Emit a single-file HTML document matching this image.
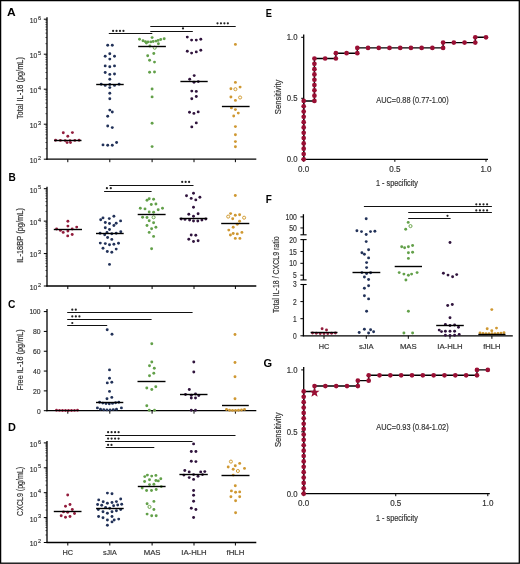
<!DOCTYPE html>
<html><head><meta charset="utf-8"><style>
html,body{margin:0;padding:0;background:#fff;}
body{width:520px;height:564px;overflow:hidden;}
svg{display:block;font-family:"Liberation Sans", sans-serif;will-change:transform;}
</style></head><body>
<svg width="520" height="564" viewBox="0 0 520 564">
<rect x="0" y="0" width="520" height="564" fill="#fff"/>
<text x="6.90" y="16.30" font-size="11.3" font-weight="bold" fill="#000" text-anchor="start" textLength="8.70" lengthAdjust="spacingAndGlyphs">A</text>
<text x="8.60" y="180.60" font-size="11.3" font-weight="bold" fill="#000" text-anchor="start" textLength="7.30" lengthAdjust="spacingAndGlyphs">B</text>
<text x="7.90" y="307.80" font-size="11.3" font-weight="bold" fill="#000" text-anchor="start" textLength="7.40" lengthAdjust="spacingAndGlyphs">C</text>
<text x="8.00" y="430.80" font-size="11.3" font-weight="bold" fill="#000" text-anchor="start" textLength="7.90" lengthAdjust="spacingAndGlyphs">D</text>
<text x="265.70" y="16.60" font-size="11.3" font-weight="bold" fill="#000" text-anchor="start" textLength="6.20" lengthAdjust="spacingAndGlyphs">E</text>
<text x="265.70" y="203.20" font-size="11.3" font-weight="bold" fill="#000" text-anchor="start" textLength="6.10" lengthAdjust="spacingAndGlyphs">F</text>
<text x="263.60" y="366.60" font-size="11.3" font-weight="bold" fill="#000" text-anchor="start" textLength="8.60" lengthAdjust="spacingAndGlyphs">G</text>
<line x1="47.00" y1="17.20" x2="47.00" y2="159.80" stroke="#000" stroke-width="1.3"/>
<line x1="43.80" y1="159.20" x2="47.00" y2="159.20" stroke="#000" stroke-width="1.0"/>
<text x="29.70" y="163.10" font-size="8.0" font-weight="normal" fill="#333333" text-anchor="start" textLength="7.50" lengthAdjust="spacingAndGlyphs" stroke="#333333" stroke-width="0.18">10</text>
<text x="37.90" y="159.80" font-size="6.0" font-weight="normal" fill="#333333" text-anchor="start" textLength="3.10" lengthAdjust="spacingAndGlyphs" stroke="#333333" stroke-width="0.18">2</text>
<line x1="45.40" y1="148.66" x2="47.00" y2="148.66" stroke="#000" stroke-width="0.6"/>
<line x1="45.40" y1="142.50" x2="47.00" y2="142.50" stroke="#000" stroke-width="0.6"/>
<line x1="45.40" y1="138.13" x2="47.00" y2="138.13" stroke="#000" stroke-width="0.6"/>
<line x1="45.40" y1="134.74" x2="47.00" y2="134.74" stroke="#000" stroke-width="0.6"/>
<line x1="45.40" y1="131.96" x2="47.00" y2="131.96" stroke="#000" stroke-width="0.6"/>
<line x1="45.40" y1="129.62" x2="47.00" y2="129.62" stroke="#000" stroke-width="0.6"/>
<line x1="45.40" y1="127.59" x2="47.00" y2="127.59" stroke="#000" stroke-width="0.6"/>
<line x1="45.40" y1="125.80" x2="47.00" y2="125.80" stroke="#000" stroke-width="0.6"/>
<line x1="43.80" y1="124.20" x2="47.00" y2="124.20" stroke="#000" stroke-width="1.0"/>
<text x="29.70" y="128.10" font-size="8.0" font-weight="normal" fill="#333333" text-anchor="start" textLength="7.50" lengthAdjust="spacingAndGlyphs" stroke="#333333" stroke-width="0.18">10</text>
<text x="37.90" y="124.80" font-size="6.0" font-weight="normal" fill="#333333" text-anchor="start" textLength="3.10" lengthAdjust="spacingAndGlyphs" stroke="#333333" stroke-width="0.18">3</text>
<line x1="45.40" y1="113.66" x2="47.00" y2="113.66" stroke="#000" stroke-width="0.6"/>
<line x1="45.40" y1="107.50" x2="47.00" y2="107.50" stroke="#000" stroke-width="0.6"/>
<line x1="45.40" y1="103.13" x2="47.00" y2="103.13" stroke="#000" stroke-width="0.6"/>
<line x1="45.40" y1="99.74" x2="47.00" y2="99.74" stroke="#000" stroke-width="0.6"/>
<line x1="45.40" y1="96.96" x2="47.00" y2="96.96" stroke="#000" stroke-width="0.6"/>
<line x1="45.40" y1="94.62" x2="47.00" y2="94.62" stroke="#000" stroke-width="0.6"/>
<line x1="45.40" y1="92.59" x2="47.00" y2="92.59" stroke="#000" stroke-width="0.6"/>
<line x1="45.40" y1="90.80" x2="47.00" y2="90.80" stroke="#000" stroke-width="0.6"/>
<line x1="43.80" y1="89.20" x2="47.00" y2="89.20" stroke="#000" stroke-width="1.0"/>
<text x="29.70" y="93.10" font-size="8.0" font-weight="normal" fill="#333333" text-anchor="start" textLength="7.50" lengthAdjust="spacingAndGlyphs" stroke="#333333" stroke-width="0.18">10</text>
<text x="37.90" y="89.80" font-size="6.0" font-weight="normal" fill="#333333" text-anchor="start" textLength="3.10" lengthAdjust="spacingAndGlyphs" stroke="#333333" stroke-width="0.18">4</text>
<line x1="45.40" y1="78.66" x2="47.00" y2="78.66" stroke="#000" stroke-width="0.6"/>
<line x1="45.40" y1="72.50" x2="47.00" y2="72.50" stroke="#000" stroke-width="0.6"/>
<line x1="45.40" y1="68.13" x2="47.00" y2="68.13" stroke="#000" stroke-width="0.6"/>
<line x1="45.40" y1="64.74" x2="47.00" y2="64.74" stroke="#000" stroke-width="0.6"/>
<line x1="45.40" y1="61.96" x2="47.00" y2="61.96" stroke="#000" stroke-width="0.6"/>
<line x1="45.40" y1="59.62" x2="47.00" y2="59.62" stroke="#000" stroke-width="0.6"/>
<line x1="45.40" y1="57.59" x2="47.00" y2="57.59" stroke="#000" stroke-width="0.6"/>
<line x1="45.40" y1="55.80" x2="47.00" y2="55.80" stroke="#000" stroke-width="0.6"/>
<line x1="43.80" y1="54.20" x2="47.00" y2="54.20" stroke="#000" stroke-width="1.0"/>
<text x="29.70" y="58.10" font-size="8.0" font-weight="normal" fill="#333333" text-anchor="start" textLength="7.50" lengthAdjust="spacingAndGlyphs" stroke="#333333" stroke-width="0.18">10</text>
<text x="37.90" y="54.80" font-size="6.0" font-weight="normal" fill="#333333" text-anchor="start" textLength="3.10" lengthAdjust="spacingAndGlyphs" stroke="#333333" stroke-width="0.18">5</text>
<line x1="45.40" y1="43.66" x2="47.00" y2="43.66" stroke="#000" stroke-width="0.6"/>
<line x1="45.40" y1="37.50" x2="47.00" y2="37.50" stroke="#000" stroke-width="0.6"/>
<line x1="45.40" y1="33.13" x2="47.00" y2="33.13" stroke="#000" stroke-width="0.6"/>
<line x1="45.40" y1="29.74" x2="47.00" y2="29.74" stroke="#000" stroke-width="0.6"/>
<line x1="45.40" y1="26.96" x2="47.00" y2="26.96" stroke="#000" stroke-width="0.6"/>
<line x1="45.40" y1="24.62" x2="47.00" y2="24.62" stroke="#000" stroke-width="0.6"/>
<line x1="45.40" y1="22.59" x2="47.00" y2="22.59" stroke="#000" stroke-width="0.6"/>
<line x1="45.40" y1="20.80" x2="47.00" y2="20.80" stroke="#000" stroke-width="0.6"/>
<line x1="43.80" y1="19.20" x2="47.00" y2="19.20" stroke="#000" stroke-width="1.0"/>
<text x="29.70" y="23.10" font-size="8.0" font-weight="normal" fill="#333333" text-anchor="start" textLength="7.50" lengthAdjust="spacingAndGlyphs" stroke="#333333" stroke-width="0.18">10</text>
<text x="37.90" y="19.80" font-size="6.0" font-weight="normal" fill="#333333" text-anchor="start" textLength="3.10" lengthAdjust="spacingAndGlyphs" stroke="#333333" stroke-width="0.18">6</text>
<line x1="46.40" y1="159.20" x2="256.30" y2="159.20" stroke="#000" stroke-width="1.3"/>
<line x1="67.80" y1="159.20" x2="67.80" y2="162.20" stroke="#000" stroke-width="1.0"/>
<line x1="109.80" y1="159.20" x2="109.80" y2="162.20" stroke="#000" stroke-width="1.0"/>
<line x1="152.10" y1="159.20" x2="152.10" y2="162.20" stroke="#000" stroke-width="1.0"/>
<line x1="194.00" y1="159.20" x2="194.00" y2="162.20" stroke="#000" stroke-width="1.0"/>
<line x1="235.40" y1="159.20" x2="235.40" y2="162.20" stroke="#000" stroke-width="1.0"/>
<text x="22.90" y="119.10" font-size="8.4" font-weight="normal" fill="#333333" text-anchor="start" textLength="62.00" lengthAdjust="spacingAndGlyphs" transform="rotate(-90 22.90 119.10)" stroke="#333333" stroke-width="0.18">Total IL-18 (pg/mL)</text>
<circle cx="63.30" cy="132.80" r="1.45" fill="#921c3c"/>
<circle cx="72.40" cy="132.60" r="1.45" fill="#921c3c"/>
<circle cx="67.80" cy="136.30" r="1.45" fill="#921c3c"/>
<circle cx="55.60" cy="140.20" r="1.45" fill="#921c3c"/>
<circle cx="60.40" cy="140.40" r="1.45" fill="#921c3c"/>
<circle cx="65.20" cy="140.60" r="1.45" fill="#921c3c"/>
<circle cx="70.00" cy="140.60" r="1.45" fill="#921c3c"/>
<circle cx="74.80" cy="140.40" r="1.45" fill="#921c3c"/>
<circle cx="79.10" cy="140.20" r="1.45" fill="#921c3c"/>
<circle cx="67.10" cy="142.60" r="1.45" fill="#921c3c"/>
<circle cx="70.50" cy="142.60" r="1.45" fill="#921c3c"/>
<circle cx="107.70" cy="45.20" r="1.45" fill="#223259"/>
<circle cx="112.30" cy="45.20" r="1.45" fill="#223259"/>
<circle cx="109.80" cy="53.80" r="1.45" fill="#223259"/>
<circle cx="105.20" cy="56.30" r="1.45" fill="#223259"/>
<circle cx="114.50" cy="56.30" r="1.45" fill="#223259"/>
<circle cx="109.80" cy="59.10" r="1.45" fill="#223259"/>
<circle cx="105.20" cy="65.90" r="1.45" fill="#223259"/>
<circle cx="109.80" cy="66.70" r="1.45" fill="#223259"/>
<circle cx="114.50" cy="65.90" r="1.45" fill="#223259"/>
<circle cx="105.20" cy="72.50" r="1.45" fill="#223259"/>
<circle cx="109.80" cy="74.40" r="1.45" fill="#223259"/>
<circle cx="114.50" cy="74.00" r="1.45" fill="#223259"/>
<circle cx="109.80" cy="79.30" r="1.45" fill="#223259"/>
<circle cx="101.20" cy="84.20" r="1.45" fill="#223259"/>
<circle cx="105.20" cy="85.40" r="1.45" fill="#223259"/>
<circle cx="109.80" cy="84.50" r="1.45" fill="#223259"/>
<circle cx="114.50" cy="85.40" r="1.45" fill="#223259"/>
<circle cx="119.10" cy="84.20" r="1.45" fill="#223259"/>
<circle cx="109.80" cy="87.60" r="1.45" fill="#223259"/>
<circle cx="109.80" cy="93.20" r="1.45" fill="#223259"/>
<circle cx="109.80" cy="98.70" r="1.45" fill="#223259"/>
<circle cx="109.80" cy="110.10" r="1.45" fill="#223259"/>
<circle cx="112.30" cy="112.00" r="1.45" fill="#223259"/>
<circle cx="107.70" cy="116.30" r="1.45" fill="#223259"/>
<circle cx="107.70" cy="126.00" r="1.45" fill="#223259"/>
<circle cx="112.30" cy="127.60" r="1.45" fill="#223259"/>
<circle cx="103.00" cy="144.90" r="1.45" fill="#223259"/>
<circle cx="107.70" cy="145.20" r="1.45" fill="#223259"/>
<circle cx="112.30" cy="145.20" r="1.45" fill="#223259"/>
<circle cx="116.60" cy="142.50" r="1.45" fill="#223259"/>
<circle cx="139.50" cy="39.30" r="1.45" fill="#62a049"/>
<circle cx="152.10" cy="37.60" r="1.45" fill="#62a049"/>
<circle cx="143.00" cy="40.80" r="1.45" fill="#62a049"/>
<circle cx="145.40" cy="41.70" r="1.45" fill="#62a049"/>
<circle cx="148.00" cy="41.90" r="1.45" fill="#62a049"/>
<circle cx="150.80" cy="41.90" r="1.45" fill="#62a049"/>
<circle cx="153.20" cy="41.50" r="1.45" fill="#62a049"/>
<circle cx="156.00" cy="41.10" r="1.45" fill="#62a049"/>
<circle cx="158.10" cy="40.40" r="1.45" fill="#62a049"/>
<circle cx="160.70" cy="39.50" r="1.45" fill="#62a049"/>
<circle cx="164.20" cy="38.70" r="1.45" fill="#62a049"/>
<circle cx="146.40" cy="43.00" r="1.45" fill="#62a049"/>
<circle cx="158.40" cy="43.80" r="1.45" fill="#62a049"/>
<circle cx="149.90" cy="46.00" r="1.45" fill="#62a049"/>
<circle cx="153.80" cy="53.50" r="1.45" fill="#62a049"/>
<circle cx="147.70" cy="55.80" r="1.45" fill="#62a049"/>
<circle cx="149.60" cy="60.20" r="1.45" fill="#62a049"/>
<circle cx="154.50" cy="62.10" r="1.45" fill="#62a049"/>
<circle cx="149.60" cy="72.20" r="1.45" fill="#62a049"/>
<circle cx="154.50" cy="72.00" r="1.45" fill="#62a049"/>
<circle cx="152.10" cy="89.00" r="1.45" fill="#62a049"/>
<circle cx="152.10" cy="96.90" r="1.45" fill="#62a049"/>
<circle cx="152.10" cy="123.20" r="1.45" fill="#62a049"/>
<circle cx="152.10" cy="146.60" r="1.45" fill="#62a049"/>
<circle cx="187.30" cy="37.10" r="1.45" fill="#30143d"/>
<circle cx="191.60" cy="40.10" r="1.45" fill="#30143d"/>
<circle cx="196.30" cy="40.10" r="1.45" fill="#30143d"/>
<circle cx="200.80" cy="39.20" r="1.45" fill="#30143d"/>
<circle cx="187.30" cy="51.30" r="1.45" fill="#30143d"/>
<circle cx="191.60" cy="53.10" r="1.45" fill="#30143d"/>
<circle cx="196.30" cy="51.90" r="1.45" fill="#30143d"/>
<circle cx="200.80" cy="50.30" r="1.45" fill="#30143d"/>
<circle cx="194.20" cy="75.60" r="1.45" fill="#30143d"/>
<circle cx="189.70" cy="79.30" r="1.45" fill="#30143d"/>
<circle cx="194.00" cy="82.20" r="1.45" fill="#30143d"/>
<circle cx="198.30" cy="81.60" r="1.45" fill="#30143d"/>
<circle cx="191.80" cy="91.10" r="1.45" fill="#30143d"/>
<circle cx="196.30" cy="91.40" r="1.45" fill="#30143d"/>
<circle cx="191.80" cy="98.70" r="1.45" fill="#30143d"/>
<circle cx="196.30" cy="96.50" r="1.45" fill="#30143d"/>
<circle cx="189.50" cy="112.20" r="1.45" fill="#30143d"/>
<circle cx="193.90" cy="113.40" r="1.45" fill="#30143d"/>
<circle cx="198.20" cy="111.90" r="1.45" fill="#30143d"/>
<circle cx="196.30" cy="122.90" r="1.45" fill="#30143d"/>
<circle cx="191.80" cy="126.90" r="1.45" fill="#30143d"/>
<circle cx="235.40" cy="44.40" r="1.45" fill="#cf9832"/>
<circle cx="235.40" cy="82.40" r="1.45" fill="#cf9832"/>
<circle cx="230.90" cy="88.80" r="1.45" fill="#cf9832"/>
<circle cx="240.10" cy="87.10" r="1.45" fill="#cf9832"/>
<circle cx="230.90" cy="97.00" r="1.45" fill="#cf9832"/>
<circle cx="235.40" cy="100.40" r="1.45" fill="#cf9832"/>
<circle cx="231.40" cy="107.90" r="1.45" fill="#cf9832"/>
<circle cx="235.40" cy="109.60" r="1.45" fill="#cf9832"/>
<circle cx="238.30" cy="113.10" r="1.45" fill="#cf9832"/>
<circle cx="233.70" cy="116.00" r="1.45" fill="#cf9832"/>
<circle cx="235.40" cy="126.60" r="1.45" fill="#cf9832"/>
<circle cx="235.40" cy="134.70" r="1.45" fill="#cf9832"/>
<circle cx="235.40" cy="141.60" r="1.45" fill="#cf9832"/>
<circle cx="235.40" cy="146.80" r="1.45" fill="#cf9832"/>
<circle cx="154.70" cy="47.70" r="1.55" fill="#fffdf0" stroke="#62a049" stroke-width="0.95"/>
<circle cx="235.40" cy="89.20" r="1.55" fill="#fffdf0" stroke="#cf9832" stroke-width="0.95"/>
<circle cx="240.10" cy="97.50" r="1.55" fill="#fffdf0" stroke="#cf9832" stroke-width="0.95"/>
<line x1="54.10" y1="140.50" x2="81.50" y2="140.50" stroke="#000" stroke-width="1.4"/>
<line x1="96.20" y1="84.50" x2="123.70" y2="84.50" stroke="#000" stroke-width="1.4"/>
<line x1="138.20" y1="46.50" x2="165.90" y2="46.50" stroke="#000" stroke-width="1.4"/>
<line x1="180.40" y1="81.50" x2="207.70" y2="81.50" stroke="#000" stroke-width="1.4"/>
<line x1="221.90" y1="106.50" x2="249.60" y2="106.50" stroke="#000" stroke-width="1.4"/>
<line x1="108.80" y1="33.50" x2="152.30" y2="33.50" stroke="#111" stroke-width="1.2"/>
<circle cx="113.10" cy="30.90" r="1.1" fill="#222"/>
<circle cx="116.55" cy="30.90" r="1.1" fill="#222"/>
<circle cx="120.00" cy="30.90" r="1.1" fill="#222"/>
<circle cx="123.45" cy="30.90" r="1.1" fill="#222"/>
<line x1="150.30" y1="31.50" x2="192.80" y2="31.50" stroke="#111" stroke-width="1.2"/>
<circle cx="183.00" cy="28.40" r="1.1" fill="#222"/>
<line x1="150.30" y1="26.50" x2="235.70" y2="26.50" stroke="#111" stroke-width="1.2"/>
<circle cx="217.50" cy="23.30" r="1.1" fill="#222"/>
<circle cx="220.95" cy="23.30" r="1.1" fill="#222"/>
<circle cx="224.40" cy="23.30" r="1.1" fill="#222"/>
<circle cx="227.85" cy="23.30" r="1.1" fill="#222"/>
<line x1="47.00" y1="186.70" x2="47.00" y2="286.60" stroke="#000" stroke-width="1.3"/>
<line x1="43.80" y1="286.00" x2="47.00" y2="286.00" stroke="#000" stroke-width="1.0"/>
<text x="29.70" y="289.90" font-size="8.0" font-weight="normal" fill="#333333" text-anchor="start" textLength="7.50" lengthAdjust="spacingAndGlyphs" stroke="#333333" stroke-width="0.18">10</text>
<text x="37.90" y="286.60" font-size="6.0" font-weight="normal" fill="#333333" text-anchor="start" textLength="3.10" lengthAdjust="spacingAndGlyphs" stroke="#333333" stroke-width="0.18">2</text>
<line x1="45.40" y1="276.24" x2="47.00" y2="276.24" stroke="#000" stroke-width="0.6"/>
<line x1="45.40" y1="270.53" x2="47.00" y2="270.53" stroke="#000" stroke-width="0.6"/>
<line x1="45.40" y1="266.47" x2="47.00" y2="266.47" stroke="#000" stroke-width="0.6"/>
<line x1="45.40" y1="263.33" x2="47.00" y2="263.33" stroke="#000" stroke-width="0.6"/>
<line x1="45.40" y1="260.76" x2="47.00" y2="260.76" stroke="#000" stroke-width="0.6"/>
<line x1="45.40" y1="258.59" x2="47.00" y2="258.59" stroke="#000" stroke-width="0.6"/>
<line x1="45.40" y1="256.71" x2="47.00" y2="256.71" stroke="#000" stroke-width="0.6"/>
<line x1="45.40" y1="255.05" x2="47.00" y2="255.05" stroke="#000" stroke-width="0.6"/>
<line x1="43.80" y1="253.57" x2="47.00" y2="253.57" stroke="#000" stroke-width="1.0"/>
<text x="29.70" y="257.47" font-size="8.0" font-weight="normal" fill="#333333" text-anchor="start" textLength="7.50" lengthAdjust="spacingAndGlyphs" stroke="#333333" stroke-width="0.18">10</text>
<text x="37.90" y="254.17" font-size="6.0" font-weight="normal" fill="#333333" text-anchor="start" textLength="3.10" lengthAdjust="spacingAndGlyphs" stroke="#333333" stroke-width="0.18">3</text>
<line x1="45.40" y1="243.80" x2="47.00" y2="243.80" stroke="#000" stroke-width="0.6"/>
<line x1="45.40" y1="238.09" x2="47.00" y2="238.09" stroke="#000" stroke-width="0.6"/>
<line x1="45.40" y1="234.04" x2="47.00" y2="234.04" stroke="#000" stroke-width="0.6"/>
<line x1="45.40" y1="230.90" x2="47.00" y2="230.90" stroke="#000" stroke-width="0.6"/>
<line x1="45.40" y1="228.33" x2="47.00" y2="228.33" stroke="#000" stroke-width="0.6"/>
<line x1="45.40" y1="226.16" x2="47.00" y2="226.16" stroke="#000" stroke-width="0.6"/>
<line x1="45.40" y1="224.28" x2="47.00" y2="224.28" stroke="#000" stroke-width="0.6"/>
<line x1="45.40" y1="222.62" x2="47.00" y2="222.62" stroke="#000" stroke-width="0.6"/>
<line x1="43.80" y1="221.13" x2="47.00" y2="221.13" stroke="#000" stroke-width="1.0"/>
<text x="29.70" y="225.03" font-size="8.0" font-weight="normal" fill="#333333" text-anchor="start" textLength="7.50" lengthAdjust="spacingAndGlyphs" stroke="#333333" stroke-width="0.18">10</text>
<text x="37.90" y="221.73" font-size="6.0" font-weight="normal" fill="#333333" text-anchor="start" textLength="3.10" lengthAdjust="spacingAndGlyphs" stroke="#333333" stroke-width="0.18">4</text>
<line x1="45.40" y1="211.37" x2="47.00" y2="211.37" stroke="#000" stroke-width="0.6"/>
<line x1="45.40" y1="205.66" x2="47.00" y2="205.66" stroke="#000" stroke-width="0.6"/>
<line x1="45.40" y1="201.61" x2="47.00" y2="201.61" stroke="#000" stroke-width="0.6"/>
<line x1="45.40" y1="198.46" x2="47.00" y2="198.46" stroke="#000" stroke-width="0.6"/>
<line x1="45.40" y1="195.90" x2="47.00" y2="195.90" stroke="#000" stroke-width="0.6"/>
<line x1="45.40" y1="193.72" x2="47.00" y2="193.72" stroke="#000" stroke-width="0.6"/>
<line x1="45.40" y1="191.84" x2="47.00" y2="191.84" stroke="#000" stroke-width="0.6"/>
<line x1="45.40" y1="190.18" x2="47.00" y2="190.18" stroke="#000" stroke-width="0.6"/>
<line x1="43.80" y1="188.70" x2="47.00" y2="188.70" stroke="#000" stroke-width="1.0"/>
<text x="29.70" y="192.60" font-size="8.0" font-weight="normal" fill="#333333" text-anchor="start" textLength="7.50" lengthAdjust="spacingAndGlyphs" stroke="#333333" stroke-width="0.18">10</text>
<text x="37.90" y="189.30" font-size="6.0" font-weight="normal" fill="#333333" text-anchor="start" textLength="3.10" lengthAdjust="spacingAndGlyphs" stroke="#333333" stroke-width="0.18">5</text>
<line x1="46.40" y1="286.00" x2="256.30" y2="286.00" stroke="#000" stroke-width="1.3"/>
<line x1="67.80" y1="286.00" x2="67.80" y2="289.00" stroke="#000" stroke-width="1.0"/>
<line x1="109.80" y1="286.00" x2="109.80" y2="289.00" stroke="#000" stroke-width="1.0"/>
<line x1="152.10" y1="286.00" x2="152.10" y2="289.00" stroke="#000" stroke-width="1.0"/>
<line x1="194.00" y1="286.00" x2="194.00" y2="289.00" stroke="#000" stroke-width="1.0"/>
<line x1="235.40" y1="286.00" x2="235.40" y2="289.00" stroke="#000" stroke-width="1.0"/>
<text x="23.10" y="262.80" font-size="8.4" font-weight="normal" fill="#333333" text-anchor="start" textLength="54.70" lengthAdjust="spacingAndGlyphs" transform="rotate(-90 23.10 262.80)" stroke="#333333" stroke-width="0.18">IL-18BP (pg/mL)</text>
<circle cx="67.90" cy="221.30" r="1.45" fill="#921c3c"/>
<circle cx="67.90" cy="226.10" r="1.45" fill="#921c3c"/>
<circle cx="76.70" cy="227.10" r="1.45" fill="#921c3c"/>
<circle cx="56.60" cy="229.00" r="1.45" fill="#921c3c"/>
<circle cx="60.40" cy="230.40" r="1.45" fill="#921c3c"/>
<circle cx="63.20" cy="232.40" r="1.45" fill="#921c3c"/>
<circle cx="67.90" cy="231.00" r="1.45" fill="#921c3c"/>
<circle cx="72.20" cy="229.00" r="1.45" fill="#921c3c"/>
<circle cx="67.70" cy="235.90" r="1.45" fill="#921c3c"/>
<circle cx="72.20" cy="234.50" r="1.45" fill="#921c3c"/>
<circle cx="100.70" cy="219.80" r="1.45" fill="#223259"/>
<circle cx="103.00" cy="217.90" r="1.45" fill="#223259"/>
<circle cx="109.30" cy="218.60" r="1.45" fill="#223259"/>
<circle cx="113.90" cy="216.30" r="1.45" fill="#223259"/>
<circle cx="120.60" cy="220.90" r="1.45" fill="#223259"/>
<circle cx="105.30" cy="222.50" r="1.45" fill="#223259"/>
<circle cx="109.50" cy="223.50" r="1.45" fill="#223259"/>
<circle cx="116.20" cy="223.20" r="1.45" fill="#223259"/>
<circle cx="113.90" cy="225.50" r="1.45" fill="#223259"/>
<circle cx="105.30" cy="227.80" r="1.45" fill="#223259"/>
<circle cx="109.50" cy="229.50" r="1.45" fill="#223259"/>
<circle cx="100.10" cy="233.30" r="1.45" fill="#223259"/>
<circle cx="107.00" cy="232.50" r="1.45" fill="#223259"/>
<circle cx="104.70" cy="234.80" r="1.45" fill="#223259"/>
<circle cx="111.80" cy="233.80" r="1.45" fill="#223259"/>
<circle cx="116.20" cy="233.30" r="1.45" fill="#223259"/>
<circle cx="120.80" cy="231.80" r="1.45" fill="#223259"/>
<circle cx="107.60" cy="237.50" r="1.45" fill="#223259"/>
<circle cx="111.80" cy="239.40" r="1.45" fill="#223259"/>
<circle cx="100.30" cy="243.10" r="1.45" fill="#223259"/>
<circle cx="105.30" cy="243.60" r="1.45" fill="#223259"/>
<circle cx="109.50" cy="244.80" r="1.45" fill="#223259"/>
<circle cx="113.90" cy="244.20" r="1.45" fill="#223259"/>
<circle cx="118.50" cy="243.30" r="1.45" fill="#223259"/>
<circle cx="103.00" cy="248.30" r="1.45" fill="#223259"/>
<circle cx="116.20" cy="249.10" r="1.45" fill="#223259"/>
<circle cx="107.30" cy="251.50" r="1.45" fill="#223259"/>
<circle cx="111.80" cy="252.30" r="1.45" fill="#223259"/>
<circle cx="109.50" cy="264.40" r="1.45" fill="#223259"/>
<circle cx="147.00" cy="200.20" r="1.45" fill="#62a049"/>
<circle cx="149.20" cy="198.70" r="1.45" fill="#62a049"/>
<circle cx="153.60" cy="199.30" r="1.45" fill="#62a049"/>
<circle cx="151.30" cy="204.50" r="1.45" fill="#62a049"/>
<circle cx="155.90" cy="204.00" r="1.45" fill="#62a049"/>
<circle cx="140.30" cy="208.20" r="1.45" fill="#62a049"/>
<circle cx="145.00" cy="208.90" r="1.45" fill="#62a049"/>
<circle cx="158.20" cy="209.80" r="1.45" fill="#62a049"/>
<circle cx="162.50" cy="208.20" r="1.45" fill="#62a049"/>
<circle cx="149.20" cy="212.00" r="1.45" fill="#62a049"/>
<circle cx="153.60" cy="212.20" r="1.45" fill="#62a049"/>
<circle cx="142.60" cy="217.30" r="1.45" fill="#62a049"/>
<circle cx="147.00" cy="217.50" r="1.45" fill="#62a049"/>
<circle cx="149.20" cy="220.80" r="1.45" fill="#62a049"/>
<circle cx="153.60" cy="222.80" r="1.45" fill="#62a049"/>
<circle cx="147.00" cy="225.50" r="1.45" fill="#62a049"/>
<circle cx="151.60" cy="228.80" r="1.45" fill="#62a049"/>
<circle cx="155.90" cy="227.20" r="1.45" fill="#62a049"/>
<circle cx="149.20" cy="232.40" r="1.45" fill="#62a049"/>
<circle cx="153.60" cy="236.40" r="1.45" fill="#62a049"/>
<circle cx="151.60" cy="248.80" r="1.45" fill="#62a049"/>
<circle cx="193.50" cy="193.20" r="1.45" fill="#30143d"/>
<circle cx="186.50" cy="195.80" r="1.45" fill="#30143d"/>
<circle cx="191.20" cy="198.40" r="1.45" fill="#30143d"/>
<circle cx="195.80" cy="199.90" r="1.45" fill="#30143d"/>
<circle cx="199.90" cy="197.30" r="1.45" fill="#30143d"/>
<circle cx="193.50" cy="207.30" r="1.45" fill="#30143d"/>
<circle cx="188.80" cy="214.20" r="1.45" fill="#30143d"/>
<circle cx="198.10" cy="213.80" r="1.45" fill="#30143d"/>
<circle cx="193.50" cy="216.20" r="1.45" fill="#30143d"/>
<circle cx="181.20" cy="219.00" r="1.45" fill="#30143d"/>
<circle cx="185.00" cy="219.40" r="1.45" fill="#30143d"/>
<circle cx="189.60" cy="220.00" r="1.45" fill="#30143d"/>
<circle cx="193.50" cy="221.00" r="1.45" fill="#30143d"/>
<circle cx="197.80" cy="221.00" r="1.45" fill="#30143d"/>
<circle cx="201.90" cy="220.00" r="1.45" fill="#30143d"/>
<circle cx="205.80" cy="219.00" r="1.45" fill="#30143d"/>
<circle cx="191.20" cy="235.00" r="1.45" fill="#30143d"/>
<circle cx="195.80" cy="235.30" r="1.45" fill="#30143d"/>
<circle cx="188.80" cy="239.30" r="1.45" fill="#30143d"/>
<circle cx="193.50" cy="241.50" r="1.45" fill="#30143d"/>
<circle cx="198.10" cy="240.80" r="1.45" fill="#30143d"/>
<circle cx="235.30" cy="195.50" r="1.45" fill="#cf9832"/>
<circle cx="230.60" cy="213.60" r="1.45" fill="#cf9832"/>
<circle cx="235.30" cy="215.30" r="1.45" fill="#cf9832"/>
<circle cx="239.60" cy="214.70" r="1.45" fill="#cf9832"/>
<circle cx="232.70" cy="218.80" r="1.45" fill="#cf9832"/>
<circle cx="239.60" cy="221.20" r="1.45" fill="#cf9832"/>
<circle cx="237.30" cy="224.20" r="1.45" fill="#cf9832"/>
<circle cx="233.20" cy="227.30" r="1.45" fill="#cf9832"/>
<circle cx="228.80" cy="230.10" r="1.45" fill="#cf9832"/>
<circle cx="237.30" cy="233.90" r="1.45" fill="#cf9832"/>
<circle cx="241.90" cy="232.40" r="1.45" fill="#cf9832"/>
<circle cx="230.40" cy="235.00" r="1.45" fill="#cf9832"/>
<circle cx="233.20" cy="233.50" r="1.45" fill="#cf9832"/>
<circle cx="235.30" cy="238.40" r="1.45" fill="#cf9832"/>
<circle cx="239.90" cy="238.40" r="1.45" fill="#cf9832"/>
<circle cx="153.60" cy="217.30" r="1.55" fill="#fffdf0" stroke="#62a049" stroke-width="0.95"/>
<circle cx="228.20" cy="216.60" r="1.55" fill="#fffdf0" stroke="#cf9832" stroke-width="0.95"/>
<circle cx="244.10" cy="217.70" r="1.55" fill="#fffdf0" stroke="#cf9832" stroke-width="0.95"/>
<line x1="53.80" y1="229.50" x2="82.00" y2="229.50" stroke="#000" stroke-width="1.4"/>
<line x1="96.00" y1="233.50" x2="123.70" y2="233.50" stroke="#000" stroke-width="1.4"/>
<line x1="137.70" y1="214.50" x2="165.60" y2="214.50" stroke="#000" stroke-width="1.4"/>
<line x1="179.60" y1="218.50" x2="207.30" y2="218.50" stroke="#000" stroke-width="1.4"/>
<line x1="221.20" y1="223.50" x2="249.30" y2="223.50" stroke="#000" stroke-width="1.4"/>
<line x1="109.30" y1="185.50" x2="193.50" y2="185.50" stroke="#111" stroke-width="1.2"/>
<circle cx="182.20" cy="181.90" r="1.1" fill="#222"/>
<circle cx="185.65" cy="181.90" r="1.1" fill="#222"/>
<circle cx="189.10" cy="181.90" r="1.1" fill="#222"/>
<line x1="104.10" y1="191.50" x2="151.60" y2="191.50" stroke="#111" stroke-width="1.2"/>
<circle cx="106.90" cy="188.20" r="1.1" fill="#222"/>
<circle cx="110.80" cy="188.20" r="1.1" fill="#222"/>
<line x1="47.00" y1="309.10" x2="47.00" y2="411.30" stroke="#000" stroke-width="1.3"/>
<line x1="43.80" y1="410.70" x2="47.00" y2="410.70" stroke="#000" stroke-width="1.0"/>
<text x="36.90" y="413.50" font-size="8.0" font-weight="normal" fill="#333333" text-anchor="start" textLength="3.70" lengthAdjust="spacingAndGlyphs" stroke="#333333" stroke-width="0.18">0</text>
<line x1="43.80" y1="390.88" x2="47.00" y2="390.88" stroke="#000" stroke-width="1.0"/>
<text x="33.00" y="393.68" font-size="8.0" font-weight="normal" fill="#333333" text-anchor="start" textLength="7.60" lengthAdjust="spacingAndGlyphs" stroke="#333333" stroke-width="0.18">20</text>
<line x1="43.80" y1="371.06" x2="47.00" y2="371.06" stroke="#000" stroke-width="1.0"/>
<text x="33.00" y="373.86" font-size="8.0" font-weight="normal" fill="#333333" text-anchor="start" textLength="7.60" lengthAdjust="spacingAndGlyphs" stroke="#333333" stroke-width="0.18">40</text>
<line x1="43.80" y1="351.24" x2="47.00" y2="351.24" stroke="#000" stroke-width="1.0"/>
<text x="33.00" y="354.04" font-size="8.0" font-weight="normal" fill="#333333" text-anchor="start" textLength="7.60" lengthAdjust="spacingAndGlyphs" stroke="#333333" stroke-width="0.18">60</text>
<line x1="43.80" y1="331.42" x2="47.00" y2="331.42" stroke="#000" stroke-width="1.0"/>
<text x="33.00" y="334.22" font-size="8.0" font-weight="normal" fill="#333333" text-anchor="start" textLength="7.60" lengthAdjust="spacingAndGlyphs" stroke="#333333" stroke-width="0.18">80</text>
<line x1="43.80" y1="311.60" x2="47.00" y2="311.60" stroke="#000" stroke-width="1.0"/>
<text x="29.40" y="314.40" font-size="8.0" font-weight="normal" fill="#333333" text-anchor="start" textLength="11.20" lengthAdjust="spacingAndGlyphs" stroke="#333333" stroke-width="0.18">100</text>
<line x1="46.40" y1="410.70" x2="256.30" y2="410.70" stroke="#000" stroke-width="1.3"/>
<line x1="67.80" y1="410.70" x2="67.80" y2="413.70" stroke="#000" stroke-width="1.0"/>
<line x1="109.80" y1="410.70" x2="109.80" y2="413.70" stroke="#000" stroke-width="1.0"/>
<line x1="152.10" y1="410.70" x2="152.10" y2="413.70" stroke="#000" stroke-width="1.0"/>
<line x1="194.00" y1="410.70" x2="194.00" y2="413.70" stroke="#000" stroke-width="1.0"/>
<line x1="235.40" y1="410.70" x2="235.40" y2="413.70" stroke="#000" stroke-width="1.0"/>
<text x="22.90" y="390.30" font-size="8.4" font-weight="normal" fill="#333333" text-anchor="start" textLength="61.10" lengthAdjust="spacingAndGlyphs" transform="rotate(-90 22.90 390.30)" stroke="#333333" stroke-width="0.18">Free IL-18 (pg/mL)</text>
<circle cx="56.50" cy="410.20" r="1.45" fill="#921c3c"/>
<circle cx="59.50" cy="410.40" r="1.45" fill="#921c3c"/>
<circle cx="62.50" cy="410.50" r="1.45" fill="#921c3c"/>
<circle cx="65.50" cy="410.50" r="1.45" fill="#921c3c"/>
<circle cx="68.50" cy="410.50" r="1.45" fill="#921c3c"/>
<circle cx="71.50" cy="410.50" r="1.45" fill="#921c3c"/>
<circle cx="74.50" cy="410.40" r="1.45" fill="#921c3c"/>
<circle cx="77.50" cy="410.20" r="1.45" fill="#921c3c"/>
<circle cx="107.20" cy="329.70" r="1.45" fill="#223259"/>
<circle cx="112.00" cy="334.30" r="1.45" fill="#223259"/>
<circle cx="109.50" cy="369.90" r="1.45" fill="#223259"/>
<circle cx="109.50" cy="378.30" r="1.45" fill="#223259"/>
<circle cx="107.30" cy="382.90" r="1.45" fill="#223259"/>
<circle cx="111.80" cy="382.30" r="1.45" fill="#223259"/>
<circle cx="109.50" cy="391.40" r="1.45" fill="#223259"/>
<circle cx="107.00" cy="398.80" r="1.45" fill="#223259"/>
<circle cx="111.80" cy="397.40" r="1.45" fill="#223259"/>
<circle cx="99.60" cy="402.30" r="1.45" fill="#223259"/>
<circle cx="102.80" cy="403.10" r="1.45" fill="#223259"/>
<circle cx="106.00" cy="403.60" r="1.45" fill="#223259"/>
<circle cx="109.30" cy="403.80" r="1.45" fill="#223259"/>
<circle cx="112.50" cy="403.40" r="1.45" fill="#223259"/>
<circle cx="115.60" cy="402.80" r="1.45" fill="#223259"/>
<circle cx="118.80" cy="402.30" r="1.45" fill="#223259"/>
<circle cx="97.40" cy="407.90" r="1.45" fill="#223259"/>
<circle cx="100.50" cy="409.20" r="1.45" fill="#223259"/>
<circle cx="103.70" cy="409.70" r="1.45" fill="#223259"/>
<circle cx="106.90" cy="409.90" r="1.45" fill="#223259"/>
<circle cx="110.10" cy="409.90" r="1.45" fill="#223259"/>
<circle cx="113.30" cy="409.60" r="1.45" fill="#223259"/>
<circle cx="116.50" cy="409.20" r="1.45" fill="#223259"/>
<circle cx="121.40" cy="407.90" r="1.45" fill="#223259"/>
<circle cx="151.80" cy="343.80" r="1.45" fill="#62a049"/>
<circle cx="151.80" cy="362.00" r="1.45" fill="#62a049"/>
<circle cx="149.50" cy="365.80" r="1.45" fill="#62a049"/>
<circle cx="154.30" cy="368.30" r="1.45" fill="#62a049"/>
<circle cx="153.80" cy="373.30" r="1.45" fill="#62a049"/>
<circle cx="149.50" cy="375.80" r="1.45" fill="#62a049"/>
<circle cx="146.80" cy="388.00" r="1.45" fill="#62a049"/>
<circle cx="151.80" cy="389.50" r="1.45" fill="#62a049"/>
<circle cx="155.80" cy="386.80" r="1.45" fill="#62a049"/>
<circle cx="146.80" cy="405.80" r="1.45" fill="#62a049"/>
<circle cx="149.30" cy="410.30" r="1.45" fill="#62a049"/>
<circle cx="154.50" cy="410.30" r="1.45" fill="#62a049"/>
<circle cx="193.80" cy="362.00" r="1.45" fill="#30143d"/>
<circle cx="193.80" cy="372.00" r="1.45" fill="#30143d"/>
<circle cx="189.30" cy="389.50" r="1.45" fill="#30143d"/>
<circle cx="185.50" cy="394.50" r="1.45" fill="#30143d"/>
<circle cx="191.30" cy="395.30" r="1.45" fill="#30143d"/>
<circle cx="195.50" cy="394.00" r="1.45" fill="#30143d"/>
<circle cx="198.80" cy="395.50" r="1.45" fill="#30143d"/>
<circle cx="191.30" cy="398.00" r="1.45" fill="#30143d"/>
<circle cx="195.50" cy="398.00" r="1.45" fill="#30143d"/>
<circle cx="191.30" cy="410.30" r="1.45" fill="#30143d"/>
<circle cx="195.50" cy="410.30" r="1.45" fill="#30143d"/>
<circle cx="235.00" cy="334.50" r="1.45" fill="#cf9832"/>
<circle cx="235.00" cy="362.50" r="1.45" fill="#cf9832"/>
<circle cx="235.00" cy="376.80" r="1.45" fill="#cf9832"/>
<circle cx="235.00" cy="398.80" r="1.45" fill="#cf9832"/>
<circle cx="226.50" cy="409.50" r="1.45" fill="#cf9832"/>
<circle cx="229.50" cy="410.30" r="1.45" fill="#cf9832"/>
<circle cx="232.50" cy="410.40" r="1.45" fill="#cf9832"/>
<circle cx="235.50" cy="410.40" r="1.45" fill="#cf9832"/>
<circle cx="238.50" cy="410.30" r="1.45" fill="#cf9832"/>
<circle cx="241.50" cy="410.00" r="1.45" fill="#cf9832"/>
<circle cx="244.50" cy="409.40" r="1.45" fill="#cf9832"/>
<line x1="96.00" y1="402.50" x2="123.30" y2="402.50" stroke="#000" stroke-width="1.4"/>
<line x1="137.50" y1="381.50" x2="165.50" y2="381.50" stroke="#000" stroke-width="1.4"/>
<line x1="180.00" y1="394.50" x2="207.50" y2="394.50" stroke="#000" stroke-width="1.4"/>
<line x1="222.00" y1="405.50" x2="248.80" y2="405.50" stroke="#000" stroke-width="1.4"/>
<line x1="54.00" y1="410.50" x2="80.50" y2="410.50" stroke="#000" stroke-width="1.0"/>
<line x1="67.20" y1="312.50" x2="192.60" y2="312.50" stroke="#111" stroke-width="1.2"/>
<circle cx="72.30" cy="309.70" r="1.1" fill="#222"/>
<circle cx="75.80" cy="309.70" r="1.1" fill="#222"/>
<line x1="67.20" y1="319.50" x2="151.60" y2="319.50" stroke="#111" stroke-width="1.2"/>
<circle cx="72.30" cy="316.40" r="1.1" fill="#222"/>
<circle cx="75.85" cy="316.40" r="1.1" fill="#222"/>
<circle cx="79.40" cy="316.40" r="1.1" fill="#222"/>
<line x1="67.20" y1="325.50" x2="107.20" y2="325.50" stroke="#111" stroke-width="1.2"/>
<circle cx="72.30" cy="323.00" r="1.1" fill="#222"/>
<line x1="47.00" y1="440.90" x2="47.00" y2="543.10" stroke="#000" stroke-width="1.3"/>
<line x1="43.80" y1="542.50" x2="47.00" y2="542.50" stroke="#000" stroke-width="1.0"/>
<text x="29.70" y="546.40" font-size="8.0" font-weight="normal" fill="#333333" text-anchor="start" textLength="7.50" lengthAdjust="spacingAndGlyphs" stroke="#333333" stroke-width="0.18">10</text>
<text x="37.90" y="543.10" font-size="6.0" font-weight="normal" fill="#333333" text-anchor="start" textLength="3.10" lengthAdjust="spacingAndGlyphs" stroke="#333333" stroke-width="0.18">2</text>
<line x1="45.40" y1="535.00" x2="47.00" y2="535.00" stroke="#000" stroke-width="0.6"/>
<line x1="45.40" y1="530.62" x2="47.00" y2="530.62" stroke="#000" stroke-width="0.6"/>
<line x1="45.40" y1="527.51" x2="47.00" y2="527.51" stroke="#000" stroke-width="0.6"/>
<line x1="45.40" y1="525.10" x2="47.00" y2="525.10" stroke="#000" stroke-width="0.6"/>
<line x1="45.40" y1="523.12" x2="47.00" y2="523.12" stroke="#000" stroke-width="0.6"/>
<line x1="45.40" y1="521.46" x2="47.00" y2="521.46" stroke="#000" stroke-width="0.6"/>
<line x1="45.40" y1="520.01" x2="47.00" y2="520.01" stroke="#000" stroke-width="0.6"/>
<line x1="45.40" y1="518.74" x2="47.00" y2="518.74" stroke="#000" stroke-width="0.6"/>
<line x1="43.80" y1="517.60" x2="47.00" y2="517.60" stroke="#000" stroke-width="1.0"/>
<text x="29.70" y="521.50" font-size="8.0" font-weight="normal" fill="#333333" text-anchor="start" textLength="7.50" lengthAdjust="spacingAndGlyphs" stroke="#333333" stroke-width="0.18">10</text>
<text x="37.90" y="518.20" font-size="6.0" font-weight="normal" fill="#333333" text-anchor="start" textLength="3.10" lengthAdjust="spacingAndGlyphs" stroke="#333333" stroke-width="0.18">3</text>
<line x1="45.40" y1="510.10" x2="47.00" y2="510.10" stroke="#000" stroke-width="0.6"/>
<line x1="45.40" y1="505.72" x2="47.00" y2="505.72" stroke="#000" stroke-width="0.6"/>
<line x1="45.40" y1="502.61" x2="47.00" y2="502.61" stroke="#000" stroke-width="0.6"/>
<line x1="45.40" y1="500.20" x2="47.00" y2="500.20" stroke="#000" stroke-width="0.6"/>
<line x1="45.40" y1="498.22" x2="47.00" y2="498.22" stroke="#000" stroke-width="0.6"/>
<line x1="45.40" y1="496.56" x2="47.00" y2="496.56" stroke="#000" stroke-width="0.6"/>
<line x1="45.40" y1="495.11" x2="47.00" y2="495.11" stroke="#000" stroke-width="0.6"/>
<line x1="45.40" y1="493.84" x2="47.00" y2="493.84" stroke="#000" stroke-width="0.6"/>
<line x1="43.80" y1="492.70" x2="47.00" y2="492.70" stroke="#000" stroke-width="1.0"/>
<text x="29.70" y="496.60" font-size="8.0" font-weight="normal" fill="#333333" text-anchor="start" textLength="7.50" lengthAdjust="spacingAndGlyphs" stroke="#333333" stroke-width="0.18">10</text>
<text x="37.90" y="493.30" font-size="6.0" font-weight="normal" fill="#333333" text-anchor="start" textLength="3.10" lengthAdjust="spacingAndGlyphs" stroke="#333333" stroke-width="0.18">4</text>
<line x1="45.40" y1="485.20" x2="47.00" y2="485.20" stroke="#000" stroke-width="0.6"/>
<line x1="45.40" y1="480.82" x2="47.00" y2="480.82" stroke="#000" stroke-width="0.6"/>
<line x1="45.40" y1="477.71" x2="47.00" y2="477.71" stroke="#000" stroke-width="0.6"/>
<line x1="45.40" y1="475.30" x2="47.00" y2="475.30" stroke="#000" stroke-width="0.6"/>
<line x1="45.40" y1="473.32" x2="47.00" y2="473.32" stroke="#000" stroke-width="0.6"/>
<line x1="45.40" y1="471.66" x2="47.00" y2="471.66" stroke="#000" stroke-width="0.6"/>
<line x1="45.40" y1="470.21" x2="47.00" y2="470.21" stroke="#000" stroke-width="0.6"/>
<line x1="45.40" y1="468.94" x2="47.00" y2="468.94" stroke="#000" stroke-width="0.6"/>
<line x1="43.80" y1="467.80" x2="47.00" y2="467.80" stroke="#000" stroke-width="1.0"/>
<text x="29.70" y="471.70" font-size="8.0" font-weight="normal" fill="#333333" text-anchor="start" textLength="7.50" lengthAdjust="spacingAndGlyphs" stroke="#333333" stroke-width="0.18">10</text>
<text x="37.90" y="468.40" font-size="6.0" font-weight="normal" fill="#333333" text-anchor="start" textLength="3.10" lengthAdjust="spacingAndGlyphs" stroke="#333333" stroke-width="0.18">5</text>
<line x1="45.40" y1="460.30" x2="47.00" y2="460.30" stroke="#000" stroke-width="0.6"/>
<line x1="45.40" y1="455.92" x2="47.00" y2="455.92" stroke="#000" stroke-width="0.6"/>
<line x1="45.40" y1="452.81" x2="47.00" y2="452.81" stroke="#000" stroke-width="0.6"/>
<line x1="45.40" y1="450.40" x2="47.00" y2="450.40" stroke="#000" stroke-width="0.6"/>
<line x1="45.40" y1="448.42" x2="47.00" y2="448.42" stroke="#000" stroke-width="0.6"/>
<line x1="45.40" y1="446.76" x2="47.00" y2="446.76" stroke="#000" stroke-width="0.6"/>
<line x1="45.40" y1="445.31" x2="47.00" y2="445.31" stroke="#000" stroke-width="0.6"/>
<line x1="45.40" y1="444.04" x2="47.00" y2="444.04" stroke="#000" stroke-width="0.6"/>
<line x1="43.80" y1="442.90" x2="47.00" y2="442.90" stroke="#000" stroke-width="1.0"/>
<text x="29.70" y="446.80" font-size="8.0" font-weight="normal" fill="#333333" text-anchor="start" textLength="7.50" lengthAdjust="spacingAndGlyphs" stroke="#333333" stroke-width="0.18">10</text>
<text x="37.90" y="443.50" font-size="6.0" font-weight="normal" fill="#333333" text-anchor="start" textLength="3.10" lengthAdjust="spacingAndGlyphs" stroke="#333333" stroke-width="0.18">6</text>
<line x1="46.40" y1="542.50" x2="256.30" y2="542.50" stroke="#000" stroke-width="1.3"/>
<line x1="67.80" y1="542.50" x2="67.80" y2="545.50" stroke="#000" stroke-width="1.0"/>
<line x1="109.80" y1="542.50" x2="109.80" y2="545.50" stroke="#000" stroke-width="1.0"/>
<line x1="152.10" y1="542.50" x2="152.10" y2="545.50" stroke="#000" stroke-width="1.0"/>
<line x1="194.00" y1="542.50" x2="194.00" y2="545.50" stroke="#000" stroke-width="1.0"/>
<line x1="235.40" y1="542.50" x2="235.40" y2="545.50" stroke="#000" stroke-width="1.0"/>
<text x="23.40" y="515.90" font-size="8.4" font-weight="normal" fill="#333333" text-anchor="start" textLength="49.10" lengthAdjust="spacingAndGlyphs" transform="rotate(-90 23.40 515.90)" stroke="#333333" stroke-width="0.18">CXCL9 (pg/mL)</text>
<text x="62.50" y="555.20" font-size="8.0" font-weight="normal" fill="#333333" text-anchor="start" textLength="10.60" lengthAdjust="spacingAndGlyphs" stroke="#333333" stroke-width="0.18">HC</text>
<text x="102.90" y="555.20" font-size="8.0" font-weight="normal" fill="#333333" text-anchor="start" textLength="13.80" lengthAdjust="spacingAndGlyphs" stroke="#333333" stroke-width="0.18">sJIA</text>
<text x="143.70" y="555.20" font-size="8.0" font-weight="normal" fill="#333333" text-anchor="start" textLength="16.80" lengthAdjust="spacingAndGlyphs" stroke="#333333" stroke-width="0.18">MAS</text>
<text x="181.30" y="555.20" font-size="8.0" font-weight="normal" fill="#333333" text-anchor="start" textLength="25.40" lengthAdjust="spacingAndGlyphs" stroke="#333333" stroke-width="0.18">IA-HLH</text>
<text x="226.50" y="555.20" font-size="8.0" font-weight="normal" fill="#333333" text-anchor="start" textLength="17.80" lengthAdjust="spacingAndGlyphs" stroke="#333333" stroke-width="0.18">fHLH</text>
<circle cx="67.70" cy="495.00" r="1.45" fill="#921c3c"/>
<circle cx="70.00" cy="504.50" r="1.45" fill="#921c3c"/>
<circle cx="65.50" cy="506.20" r="1.45" fill="#921c3c"/>
<circle cx="72.30" cy="509.50" r="1.45" fill="#921c3c"/>
<circle cx="63.50" cy="511.90" r="1.45" fill="#921c3c"/>
<circle cx="67.70" cy="512.30" r="1.45" fill="#921c3c"/>
<circle cx="74.50" cy="513.50" r="1.45" fill="#921c3c"/>
<circle cx="61.20" cy="515.80" r="1.45" fill="#921c3c"/>
<circle cx="65.50" cy="517.30" r="1.45" fill="#921c3c"/>
<circle cx="70.00" cy="516.50" r="1.45" fill="#921c3c"/>
<circle cx="107.40" cy="493.10" r="1.45" fill="#223259"/>
<circle cx="112.00" cy="493.80" r="1.45" fill="#223259"/>
<circle cx="98.70" cy="499.90" r="1.45" fill="#223259"/>
<circle cx="120.70" cy="499.00" r="1.45" fill="#223259"/>
<circle cx="103.20" cy="501.80" r="1.45" fill="#223259"/>
<circle cx="107.40" cy="503.30" r="1.45" fill="#223259"/>
<circle cx="112.00" cy="502.50" r="1.45" fill="#223259"/>
<circle cx="116.40" cy="501.60" r="1.45" fill="#223259"/>
<circle cx="97.60" cy="504.50" r="1.45" fill="#223259"/>
<circle cx="101.70" cy="505.30" r="1.45" fill="#223259"/>
<circle cx="113.60" cy="505.70" r="1.45" fill="#223259"/>
<circle cx="117.70" cy="505.00" r="1.45" fill="#223259"/>
<circle cx="121.70" cy="504.20" r="1.45" fill="#223259"/>
<circle cx="98.30" cy="509.60" r="1.45" fill="#223259"/>
<circle cx="105.60" cy="507.50" r="1.45" fill="#223259"/>
<circle cx="109.70" cy="508.30" r="1.45" fill="#223259"/>
<circle cx="120.70" cy="509.50" r="1.45" fill="#223259"/>
<circle cx="103.00" cy="511.80" r="1.45" fill="#223259"/>
<circle cx="107.40" cy="513.20" r="1.45" fill="#223259"/>
<circle cx="112.00" cy="511.80" r="1.45" fill="#223259"/>
<circle cx="116.40" cy="510.70" r="1.45" fill="#223259"/>
<circle cx="98.60" cy="516.50" r="1.45" fill="#223259"/>
<circle cx="103.00" cy="517.70" r="1.45" fill="#223259"/>
<circle cx="107.40" cy="520.00" r="1.45" fill="#223259"/>
<circle cx="112.00" cy="516.50" r="1.45" fill="#223259"/>
<circle cx="114.20" cy="520.00" r="1.45" fill="#223259"/>
<circle cx="112.00" cy="521.90" r="1.45" fill="#223259"/>
<circle cx="118.70" cy="519.10" r="1.45" fill="#223259"/>
<circle cx="107.40" cy="525.30" r="1.45" fill="#223259"/>
<circle cx="144.80" cy="476.60" r="1.45" fill="#62a049"/>
<circle cx="147.40" cy="475.10" r="1.45" fill="#62a049"/>
<circle cx="151.70" cy="476.10" r="1.45" fill="#62a049"/>
<circle cx="155.90" cy="475.40" r="1.45" fill="#62a049"/>
<circle cx="144.60" cy="481.50" r="1.45" fill="#62a049"/>
<circle cx="149.50" cy="479.80" r="1.45" fill="#62a049"/>
<circle cx="155.90" cy="480.50" r="1.45" fill="#62a049"/>
<circle cx="158.30" cy="480.90" r="1.45" fill="#62a049"/>
<circle cx="160.80" cy="478.80" r="1.45" fill="#62a049"/>
<circle cx="149.50" cy="484.60" r="1.45" fill="#62a049"/>
<circle cx="153.90" cy="484.20" r="1.45" fill="#62a049"/>
<circle cx="142.20" cy="488.10" r="1.45" fill="#62a049"/>
<circle cx="161.30" cy="486.60" r="1.45" fill="#62a049"/>
<circle cx="146.60" cy="490.50" r="1.45" fill="#62a049"/>
<circle cx="151.50" cy="490.50" r="1.45" fill="#62a049"/>
<circle cx="156.20" cy="489.50" r="1.45" fill="#62a049"/>
<circle cx="153.90" cy="501.40" r="1.45" fill="#62a049"/>
<circle cx="147.10" cy="503.70" r="1.45" fill="#62a049"/>
<circle cx="153.90" cy="509.50" r="1.45" fill="#62a049"/>
<circle cx="147.10" cy="514.10" r="1.45" fill="#62a049"/>
<circle cx="151.70" cy="515.70" r="1.45" fill="#62a049"/>
<circle cx="156.20" cy="515.70" r="1.45" fill="#62a049"/>
<circle cx="193.60" cy="443.90" r="1.45" fill="#30143d"/>
<circle cx="191.30" cy="451.50" r="1.45" fill="#30143d"/>
<circle cx="195.90" cy="451.50" r="1.45" fill="#30143d"/>
<circle cx="191.30" cy="461.30" r="1.45" fill="#30143d"/>
<circle cx="195.90" cy="461.60" r="1.45" fill="#30143d"/>
<circle cx="184.80" cy="470.50" r="1.45" fill="#30143d"/>
<circle cx="189.20" cy="471.90" r="1.45" fill="#30143d"/>
<circle cx="200.70" cy="471.90" r="1.45" fill="#30143d"/>
<circle cx="204.80" cy="471.60" r="1.45" fill="#30143d"/>
<circle cx="183.90" cy="475.10" r="1.45" fill="#30143d"/>
<circle cx="189.20" cy="477.60" r="1.45" fill="#30143d"/>
<circle cx="193.60" cy="474.60" r="1.45" fill="#30143d"/>
<circle cx="193.60" cy="479.40" r="1.45" fill="#30143d"/>
<circle cx="198.00" cy="476.30" r="1.45" fill="#30143d"/>
<circle cx="202.50" cy="474.60" r="1.45" fill="#30143d"/>
<circle cx="193.60" cy="490.50" r="1.45" fill="#30143d"/>
<circle cx="193.60" cy="495.30" r="1.45" fill="#30143d"/>
<circle cx="193.60" cy="501.20" r="1.45" fill="#30143d"/>
<circle cx="191.30" cy="508.30" r="1.45" fill="#30143d"/>
<circle cx="195.90" cy="509.50" r="1.45" fill="#30143d"/>
<circle cx="193.60" cy="517.50" r="1.45" fill="#30143d"/>
<circle cx="239.70" cy="463.40" r="1.45" fill="#cf9832"/>
<circle cx="228.20" cy="467.00" r="1.45" fill="#cf9832"/>
<circle cx="235.30" cy="465.70" r="1.45" fill="#cf9832"/>
<circle cx="233.20" cy="469.30" r="1.45" fill="#cf9832"/>
<circle cx="244.50" cy="468.40" r="1.45" fill="#cf9832"/>
<circle cx="233.20" cy="475.10" r="1.45" fill="#cf9832"/>
<circle cx="235.30" cy="485.70" r="1.45" fill="#cf9832"/>
<circle cx="231.40" cy="490.90" r="1.45" fill="#cf9832"/>
<circle cx="235.60" cy="492.30" r="1.45" fill="#cf9832"/>
<circle cx="239.70" cy="491.90" r="1.45" fill="#cf9832"/>
<circle cx="230.90" cy="496.70" r="1.45" fill="#cf9832"/>
<circle cx="239.70" cy="496.70" r="1.45" fill="#cf9832"/>
<circle cx="235.60" cy="500.80" r="1.45" fill="#cf9832"/>
<circle cx="235.60" cy="512.70" r="1.45" fill="#cf9832"/>
<circle cx="149.50" cy="506.90" r="1.55" fill="#fffdf0" stroke="#62a049" stroke-width="0.95"/>
<circle cx="230.90" cy="461.60" r="1.55" fill="#fffdf0" stroke="#cf9832" stroke-width="0.95"/>
<circle cx="237.90" cy="471.00" r="1.55" fill="#fffdf0" stroke="#cf9832" stroke-width="0.95"/>
<line x1="53.80" y1="511.50" x2="81.50" y2="511.50" stroke="#000" stroke-width="1.4"/>
<line x1="96.10" y1="508.50" x2="123.70" y2="508.50" stroke="#000" stroke-width="1.4"/>
<line x1="137.80" y1="486.50" x2="165.60" y2="486.50" stroke="#000" stroke-width="1.4"/>
<line x1="179.40" y1="474.50" x2="207.80" y2="474.50" stroke="#000" stroke-width="1.4"/>
<line x1="221.50" y1="475.50" x2="249.50" y2="475.50" stroke="#000" stroke-width="1.4"/>
<line x1="105.20" y1="435.50" x2="235.50" y2="435.50" stroke="#111" stroke-width="1.2"/>
<circle cx="108.10" cy="432.20" r="1.1" fill="#222"/>
<circle cx="111.60" cy="432.20" r="1.1" fill="#222"/>
<circle cx="115.10" cy="432.20" r="1.1" fill="#222"/>
<circle cx="118.60" cy="432.20" r="1.1" fill="#222"/>
<line x1="105.20" y1="441.50" x2="192.50" y2="441.50" stroke="#111" stroke-width="1.2"/>
<circle cx="108.10" cy="438.60" r="1.1" fill="#222"/>
<circle cx="111.60" cy="438.60" r="1.1" fill="#222"/>
<circle cx="115.10" cy="438.60" r="1.1" fill="#222"/>
<circle cx="118.60" cy="438.60" r="1.1" fill="#222"/>
<line x1="105.80" y1="447.50" x2="154.30" y2="447.50" stroke="#111" stroke-width="1.2"/>
<circle cx="108.10" cy="444.90" r="1.1" fill="#222"/>
<circle cx="111.50" cy="444.90" r="1.1" fill="#222"/>
<line x1="303.70" y1="34.50" x2="303.70" y2="159.90" stroke="#000" stroke-width="1.3"/>
<line x1="303.10" y1="159.30" x2="488.00" y2="159.30" stroke="#000" stroke-width="1.3"/>
<line x1="301.20" y1="159.30" x2="303.70" y2="159.30" stroke="#000" stroke-width="1.0"/>
<text x="286.70" y="162.30" font-size="8.6" font-weight="normal" fill="#333333" text-anchor="start" textLength="10.80" lengthAdjust="spacingAndGlyphs" stroke="#333333" stroke-width="0.18">0.0</text>
<line x1="303.70" y1="159.30" x2="303.70" y2="161.80" stroke="#000" stroke-width="1.0"/>
<text x="298.10" y="171.90" font-size="8.6" font-weight="normal" fill="#333333" text-anchor="start" textLength="11.20" lengthAdjust="spacingAndGlyphs" stroke="#333333" stroke-width="0.18">0.0</text>
<line x1="301.20" y1="98.30" x2="303.70" y2="98.30" stroke="#000" stroke-width="1.0"/>
<text x="286.70" y="101.30" font-size="8.6" font-weight="normal" fill="#333333" text-anchor="start" textLength="10.80" lengthAdjust="spacingAndGlyphs" stroke="#333333" stroke-width="0.18">0.5</text>
<line x1="394.85" y1="159.30" x2="394.85" y2="161.80" stroke="#000" stroke-width="1.0"/>
<text x="389.25" y="171.90" font-size="8.6" font-weight="normal" fill="#333333" text-anchor="start" textLength="11.20" lengthAdjust="spacingAndGlyphs" stroke="#333333" stroke-width="0.18">0.5</text>
<line x1="301.20" y1="37.30" x2="303.70" y2="37.30" stroke="#000" stroke-width="1.0"/>
<text x="286.70" y="40.30" font-size="8.6" font-weight="normal" fill="#333333" text-anchor="start" textLength="10.80" lengthAdjust="spacingAndGlyphs" stroke="#333333" stroke-width="0.18">1.0</text>
<line x1="486.00" y1="159.30" x2="486.00" y2="161.80" stroke="#000" stroke-width="1.0"/>
<text x="480.40" y="171.90" font-size="8.6" font-weight="normal" fill="#333333" text-anchor="start" textLength="11.20" lengthAdjust="spacingAndGlyphs" stroke="#333333" stroke-width="0.18">1.0</text>
<text x="376.00" y="186.30" font-size="8.4" font-weight="normal" fill="#333333" text-anchor="start" textLength="42.00" lengthAdjust="spacingAndGlyphs" stroke="#333333" stroke-width="0.18">1 - specificity</text>
<text x="281.30" y="114.20" font-size="8.4" font-weight="normal" fill="#333333" text-anchor="start" textLength="34.60" lengthAdjust="spacingAndGlyphs" transform="rotate(-90 281.30 114.20)" stroke="#333333" stroke-width="0.18">Sensitivity</text>
<text x="376.30" y="103.00" font-size="8.7" font-weight="normal" fill="#333333" text-anchor="start" textLength="72.30" lengthAdjust="spacingAndGlyphs" stroke="#333333" stroke-width="0.18">AUC=0.88 (0.77-1.00)</text>
<path d="M303.70,159.30 L303.70,100.95 L314.42,100.95 L314.42,58.52 L335.87,58.52 L335.87,53.21 L357.32,53.21 L357.32,47.91 L443.11,47.91 L443.11,42.60 L475.28,42.60 L475.28,37.30 L486.00,37.30" fill="none" stroke="#000" stroke-width="1.4"/>
<circle cx="303.70" cy="159.30" r="2.35" fill="#9a0f34"/>
<circle cx="303.70" cy="154.00" r="2.35" fill="#9a0f34"/>
<circle cx="303.70" cy="148.69" r="2.35" fill="#9a0f34"/>
<circle cx="303.70" cy="143.39" r="2.35" fill="#9a0f34"/>
<circle cx="303.70" cy="138.08" r="2.35" fill="#9a0f34"/>
<circle cx="303.70" cy="132.78" r="2.35" fill="#9a0f34"/>
<circle cx="303.70" cy="127.47" r="2.35" fill="#9a0f34"/>
<circle cx="303.70" cy="122.17" r="2.35" fill="#9a0f34"/>
<circle cx="303.70" cy="116.87" r="2.35" fill="#9a0f34"/>
<circle cx="303.70" cy="111.56" r="2.35" fill="#9a0f34"/>
<circle cx="303.70" cy="106.26" r="2.35" fill="#9a0f34"/>
<circle cx="303.70" cy="100.95" r="2.35" fill="#9a0f34"/>
<circle cx="314.42" cy="100.95" r="2.35" fill="#9a0f34"/>
<circle cx="314.42" cy="95.65" r="2.35" fill="#9a0f34"/>
<circle cx="314.42" cy="90.34" r="2.35" fill="#9a0f34"/>
<circle cx="314.42" cy="85.04" r="2.35" fill="#9a0f34"/>
<circle cx="314.42" cy="79.73" r="2.35" fill="#9a0f34"/>
<circle cx="314.42" cy="74.43" r="2.35" fill="#9a0f34"/>
<circle cx="314.42" cy="69.13" r="2.35" fill="#9a0f34"/>
<circle cx="314.42" cy="63.82" r="2.35" fill="#9a0f34"/>
<circle cx="314.42" cy="58.52" r="2.35" fill="#9a0f34"/>
<circle cx="325.15" cy="58.52" r="2.35" fill="#9a0f34"/>
<circle cx="335.87" cy="58.52" r="2.35" fill="#9a0f34"/>
<circle cx="335.87" cy="53.21" r="2.35" fill="#9a0f34"/>
<circle cx="346.59" cy="53.21" r="2.35" fill="#9a0f34"/>
<circle cx="357.32" cy="53.21" r="2.35" fill="#9a0f34"/>
<circle cx="357.32" cy="47.91" r="2.35" fill="#9a0f34"/>
<circle cx="368.04" cy="47.91" r="2.35" fill="#9a0f34"/>
<circle cx="378.76" cy="47.91" r="2.35" fill="#9a0f34"/>
<circle cx="389.49" cy="47.91" r="2.35" fill="#9a0f34"/>
<circle cx="400.21" cy="47.91" r="2.35" fill="#9a0f34"/>
<circle cx="410.94" cy="47.91" r="2.35" fill="#9a0f34"/>
<circle cx="421.66" cy="47.91" r="2.35" fill="#9a0f34"/>
<circle cx="432.38" cy="47.91" r="2.35" fill="#9a0f34"/>
<circle cx="443.11" cy="47.91" r="2.35" fill="#9a0f34"/>
<circle cx="443.11" cy="42.60" r="2.35" fill="#9a0f34"/>
<circle cx="453.83" cy="42.60" r="2.35" fill="#9a0f34"/>
<circle cx="464.55" cy="42.60" r="2.35" fill="#9a0f34"/>
<circle cx="475.28" cy="42.60" r="2.35" fill="#9a0f34"/>
<circle cx="475.28" cy="37.30" r="2.35" fill="#9a0f34"/>
<circle cx="486.00" cy="37.30" r="2.35" fill="#9a0f34"/>
<line x1="303.70" y1="367.10" x2="303.70" y2="494.30" stroke="#000" stroke-width="1.3"/>
<line x1="303.10" y1="493.70" x2="489.80" y2="493.70" stroke="#000" stroke-width="1.3"/>
<line x1="301.20" y1="493.70" x2="303.70" y2="493.70" stroke="#000" stroke-width="1.0"/>
<text x="286.70" y="496.70" font-size="8.6" font-weight="normal" fill="#333333" text-anchor="start" textLength="10.80" lengthAdjust="spacingAndGlyphs" stroke="#333333" stroke-width="0.18">0.0</text>
<line x1="303.70" y1="493.70" x2="303.70" y2="496.20" stroke="#000" stroke-width="1.0"/>
<text x="298.10" y="506.30" font-size="8.6" font-weight="normal" fill="#333333" text-anchor="start" textLength="11.20" lengthAdjust="spacingAndGlyphs" stroke="#333333" stroke-width="0.18">0.0</text>
<line x1="301.20" y1="431.80" x2="303.70" y2="431.80" stroke="#000" stroke-width="1.0"/>
<text x="286.70" y="434.80" font-size="8.6" font-weight="normal" fill="#333333" text-anchor="start" textLength="10.80" lengthAdjust="spacingAndGlyphs" stroke="#333333" stroke-width="0.18">0.5</text>
<line x1="395.75" y1="493.70" x2="395.75" y2="496.20" stroke="#000" stroke-width="1.0"/>
<text x="390.15" y="506.30" font-size="8.6" font-weight="normal" fill="#333333" text-anchor="start" textLength="11.20" lengthAdjust="spacingAndGlyphs" stroke="#333333" stroke-width="0.18">0.5</text>
<line x1="301.20" y1="369.90" x2="303.70" y2="369.90" stroke="#000" stroke-width="1.0"/>
<text x="286.70" y="372.90" font-size="8.6" font-weight="normal" fill="#333333" text-anchor="start" textLength="10.80" lengthAdjust="spacingAndGlyphs" stroke="#333333" stroke-width="0.18">1.0</text>
<line x1="487.80" y1="493.70" x2="487.80" y2="496.20" stroke="#000" stroke-width="1.0"/>
<text x="482.20" y="506.30" font-size="8.6" font-weight="normal" fill="#333333" text-anchor="start" textLength="11.20" lengthAdjust="spacingAndGlyphs" stroke="#333333" stroke-width="0.18">1.0</text>
<text x="376.00" y="520.50" font-size="8.4" font-weight="normal" fill="#333333" text-anchor="start" textLength="42.00" lengthAdjust="spacingAndGlyphs" stroke="#333333" stroke-width="0.18">1 - specificity</text>
<text x="281.30" y="447.10" font-size="8.4" font-weight="normal" fill="#333333" text-anchor="start" textLength="34.60" lengthAdjust="spacingAndGlyphs" transform="rotate(-90 281.30 447.10)" stroke="#333333" stroke-width="0.18">Sensitivity</text>
<text x="376.30" y="429.50" font-size="8.7" font-weight="normal" fill="#333333" text-anchor="start" textLength="72.30" lengthAdjust="spacingAndGlyphs" stroke="#333333" stroke-width="0.18">AUC=0.93 (0.84-1.02)</text>
<path d="M303.70,493.70 L303.70,391.43 L314.53,391.43 L314.53,386.05 L357.85,386.05 L357.85,380.67 L368.68,380.67 L368.68,375.28 L476.97,375.28 L476.97,369.90 L487.80,369.90" fill="none" stroke="#000" stroke-width="1.4"/>
<circle cx="303.70" cy="493.70" r="2.35" fill="#9a0f34"/>
<circle cx="303.70" cy="488.32" r="2.35" fill="#9a0f34"/>
<circle cx="303.70" cy="482.93" r="2.35" fill="#9a0f34"/>
<circle cx="303.70" cy="477.55" r="2.35" fill="#9a0f34"/>
<circle cx="303.70" cy="472.17" r="2.35" fill="#9a0f34"/>
<circle cx="303.70" cy="466.79" r="2.35" fill="#9a0f34"/>
<circle cx="303.70" cy="461.40" r="2.35" fill="#9a0f34"/>
<circle cx="303.70" cy="456.02" r="2.35" fill="#9a0f34"/>
<circle cx="303.70" cy="450.64" r="2.35" fill="#9a0f34"/>
<circle cx="303.70" cy="445.26" r="2.35" fill="#9a0f34"/>
<circle cx="303.70" cy="439.87" r="2.35" fill="#9a0f34"/>
<circle cx="303.70" cy="434.49" r="2.35" fill="#9a0f34"/>
<circle cx="303.70" cy="429.11" r="2.35" fill="#9a0f34"/>
<circle cx="303.70" cy="423.73" r="2.35" fill="#9a0f34"/>
<circle cx="303.70" cy="418.34" r="2.35" fill="#9a0f34"/>
<circle cx="303.70" cy="412.96" r="2.35" fill="#9a0f34"/>
<circle cx="303.70" cy="407.58" r="2.35" fill="#9a0f34"/>
<circle cx="303.70" cy="402.20" r="2.35" fill="#9a0f34"/>
<circle cx="303.70" cy="396.81" r="2.35" fill="#9a0f34"/>
<circle cx="303.70" cy="391.43" r="2.35" fill="#9a0f34"/>
<circle cx="314.53" cy="386.05" r="2.35" fill="#9a0f34"/>
<circle cx="325.36" cy="386.05" r="2.35" fill="#9a0f34"/>
<circle cx="336.19" cy="386.05" r="2.35" fill="#9a0f34"/>
<circle cx="347.02" cy="386.05" r="2.35" fill="#9a0f34"/>
<circle cx="357.85" cy="386.05" r="2.35" fill="#9a0f34"/>
<circle cx="357.85" cy="380.67" r="2.35" fill="#9a0f34"/>
<circle cx="368.68" cy="380.67" r="2.35" fill="#9a0f34"/>
<circle cx="368.68" cy="375.28" r="2.35" fill="#9a0f34"/>
<circle cx="379.51" cy="375.28" r="2.35" fill="#9a0f34"/>
<circle cx="390.34" cy="375.28" r="2.35" fill="#9a0f34"/>
<circle cx="401.16" cy="375.28" r="2.35" fill="#9a0f34"/>
<circle cx="411.99" cy="375.28" r="2.35" fill="#9a0f34"/>
<circle cx="422.82" cy="375.28" r="2.35" fill="#9a0f34"/>
<circle cx="433.65" cy="375.28" r="2.35" fill="#9a0f34"/>
<circle cx="444.48" cy="375.28" r="2.35" fill="#9a0f34"/>
<circle cx="455.31" cy="375.28" r="2.35" fill="#9a0f34"/>
<circle cx="466.14" cy="375.28" r="2.35" fill="#9a0f34"/>
<circle cx="476.97" cy="375.28" r="2.35" fill="#9a0f34"/>
<circle cx="476.97" cy="369.90" r="2.35" fill="#9a0f34"/>
<circle cx="487.80" cy="369.90" r="2.35" fill="#9a0f34"/>
<path d="M314.53,387.13 L315.82,390.65 L319.57,390.79 L316.62,393.11 L317.64,396.72 L314.53,394.63 L311.41,396.72 L312.44,393.11 L309.49,390.79 L313.24,390.65Z" fill="#9a0f34"/>
<line x1="303.40" y1="284.50" x2="303.40" y2="336.30" stroke="#000" stroke-width="1.3"/>
<line x1="303.40" y1="239.60" x2="303.40" y2="279.90" stroke="#000" stroke-width="1.3"/>
<line x1="303.40" y1="214.20" x2="303.40" y2="234.80" stroke="#000" stroke-width="1.3"/>
<line x1="300.40" y1="284.50" x2="306.60" y2="284.50" stroke="#000" stroke-width="1.1"/>
<line x1="300.40" y1="279.90" x2="306.60" y2="279.90" stroke="#000" stroke-width="1.1"/>
<line x1="300.40" y1="239.60" x2="306.60" y2="239.60" stroke="#000" stroke-width="1.1"/>
<line x1="300.40" y1="234.80" x2="306.60" y2="234.80" stroke="#000" stroke-width="1.1"/>
<line x1="300.40" y1="335.80" x2="303.40" y2="335.80" stroke="#000" stroke-width="1.0"/>
<text x="293.10" y="338.90" font-size="8.6" font-weight="normal" fill="#333333" text-anchor="start" textLength="3.70" lengthAdjust="spacingAndGlyphs" stroke="#333333" stroke-width="0.18">0</text>
<line x1="300.40" y1="318.70" x2="303.40" y2="318.70" stroke="#000" stroke-width="1.0"/>
<text x="293.10" y="321.80" font-size="8.6" font-weight="normal" fill="#333333" text-anchor="start" textLength="3.70" lengthAdjust="spacingAndGlyphs" stroke="#333333" stroke-width="0.18">1</text>
<line x1="300.40" y1="301.60" x2="303.40" y2="301.60" stroke="#000" stroke-width="1.0"/>
<text x="293.10" y="304.70" font-size="8.6" font-weight="normal" fill="#333333" text-anchor="start" textLength="3.70" lengthAdjust="spacingAndGlyphs" stroke="#333333" stroke-width="0.18">2</text>
<text x="293.10" y="286.70" font-size="8.6" font-weight="normal" fill="#333333" text-anchor="start" textLength="3.70" lengthAdjust="spacingAndGlyphs" stroke="#333333" stroke-width="0.18">3</text>
<line x1="300.40" y1="275.16" x2="303.40" y2="275.16" stroke="#000" stroke-width="1.0"/>
<text x="293.10" y="278.26" font-size="8.6" font-weight="normal" fill="#333333" text-anchor="start" textLength="3.70" lengthAdjust="spacingAndGlyphs" stroke="#333333" stroke-width="0.18">5</text>
<line x1="300.40" y1="263.31" x2="303.40" y2="263.31" stroke="#000" stroke-width="1.0"/>
<text x="289.20" y="266.41" font-size="8.6" font-weight="normal" fill="#333333" text-anchor="start" textLength="7.60" lengthAdjust="spacingAndGlyphs" stroke="#333333" stroke-width="0.18">10</text>
<line x1="300.40" y1="251.45" x2="303.40" y2="251.45" stroke="#000" stroke-width="1.0"/>
<text x="289.20" y="254.55" font-size="8.6" font-weight="normal" fill="#333333" text-anchor="start" textLength="7.60" lengthAdjust="spacingAndGlyphs" stroke="#333333" stroke-width="0.18">15</text>
<text x="289.20" y="242.70" font-size="8.6" font-weight="normal" fill="#333333" text-anchor="start" textLength="7.60" lengthAdjust="spacingAndGlyphs" stroke="#333333" stroke-width="0.18">20</text>
<line x1="300.40" y1="227.96" x2="303.40" y2="227.96" stroke="#000" stroke-width="1.0"/>
<text x="289.20" y="231.06" font-size="8.6" font-weight="normal" fill="#333333" text-anchor="start" textLength="7.60" lengthAdjust="spacingAndGlyphs" stroke="#333333" stroke-width="0.18">50</text>
<line x1="300.40" y1="216.90" x2="303.40" y2="216.90" stroke="#000" stroke-width="1.0"/>
<text x="285.40" y="220.00" font-size="8.6" font-weight="normal" fill="#333333" text-anchor="start" textLength="11.40" lengthAdjust="spacingAndGlyphs" stroke="#333333" stroke-width="0.18">100</text>
<line x1="302.80" y1="335.80" x2="512.80" y2="335.80" stroke="#000" stroke-width="1.3"/>
<line x1="324.00" y1="335.80" x2="324.00" y2="338.80" stroke="#000" stroke-width="1.0"/>
<line x1="366.30" y1="335.80" x2="366.30" y2="338.80" stroke="#000" stroke-width="1.0"/>
<line x1="408.30" y1="335.80" x2="408.30" y2="338.80" stroke="#000" stroke-width="1.0"/>
<line x1="450.00" y1="335.80" x2="450.00" y2="338.80" stroke="#000" stroke-width="1.0"/>
<line x1="491.90" y1="335.80" x2="491.90" y2="338.80" stroke="#000" stroke-width="1.0"/>
<text x="318.70" y="348.70" font-size="8.0" font-weight="normal" fill="#333333" text-anchor="start" textLength="10.60" lengthAdjust="spacingAndGlyphs" stroke="#333333" stroke-width="0.18">HC</text>
<text x="358.90" y="348.70" font-size="8.0" font-weight="normal" fill="#333333" text-anchor="start" textLength="14.80" lengthAdjust="spacingAndGlyphs" stroke="#333333" stroke-width="0.18">sJIA</text>
<text x="399.90" y="348.70" font-size="8.0" font-weight="normal" fill="#333333" text-anchor="start" textLength="16.80" lengthAdjust="spacingAndGlyphs" stroke="#333333" stroke-width="0.18">MAS</text>
<text x="437.30" y="348.70" font-size="8.0" font-weight="normal" fill="#333333" text-anchor="start" textLength="25.40" lengthAdjust="spacingAndGlyphs" stroke="#333333" stroke-width="0.18">IA-HLH</text>
<text x="483.25" y="348.70" font-size="8.0" font-weight="normal" fill="#333333" text-anchor="start" textLength="17.30" lengthAdjust="spacingAndGlyphs" stroke="#333333" stroke-width="0.18">fHLH</text>
<text x="278.80" y="312.90" font-size="8.4" font-weight="normal" fill="#333333" text-anchor="start" textLength="76.50" lengthAdjust="spacingAndGlyphs" transform="rotate(-90 278.80 312.90)" stroke="#333333" stroke-width="0.18">Total IL-18 / CXCL9 ratio</text>
<circle cx="322.10" cy="328.70" r="1.45" fill="#921c3c"/>
<circle cx="326.50" cy="330.00" r="1.45" fill="#921c3c"/>
<circle cx="312.50" cy="333.00" r="1.45" fill="#921c3c"/>
<circle cx="316.30" cy="333.30" r="1.45" fill="#921c3c"/>
<circle cx="320.20" cy="333.50" r="1.45" fill="#921c3c"/>
<circle cx="324.00" cy="333.50" r="1.45" fill="#921c3c"/>
<circle cx="327.80" cy="333.50" r="1.45" fill="#921c3c"/>
<circle cx="331.60" cy="333.30" r="1.45" fill="#921c3c"/>
<circle cx="335.40" cy="333.00" r="1.45" fill="#921c3c"/>
<circle cx="366.20" cy="218.80" r="1.45" fill="#223259"/>
<circle cx="356.90" cy="230.80" r="1.45" fill="#223259"/>
<circle cx="361.50" cy="231.60" r="1.45" fill="#223259"/>
<circle cx="366.20" cy="234.50" r="1.45" fill="#223259"/>
<circle cx="370.50" cy="231.60" r="1.45" fill="#223259"/>
<circle cx="374.90" cy="231.20" r="1.45" fill="#223259"/>
<circle cx="366.20" cy="241.60" r="1.45" fill="#223259"/>
<circle cx="368.60" cy="249.70" r="1.45" fill="#223259"/>
<circle cx="361.90" cy="252.70" r="1.45" fill="#223259"/>
<circle cx="364.40" cy="254.20" r="1.45" fill="#223259"/>
<circle cx="368.60" cy="257.90" r="1.45" fill="#223259"/>
<circle cx="366.60" cy="262.60" r="1.45" fill="#223259"/>
<circle cx="366.60" cy="267.60" r="1.45" fill="#223259"/>
<circle cx="361.90" cy="272.60" r="1.45" fill="#223259"/>
<circle cx="366.60" cy="273.50" r="1.45" fill="#223259"/>
<circle cx="370.60" cy="272.80" r="1.45" fill="#223259"/>
<circle cx="364.40" cy="277.00" r="1.45" fill="#223259"/>
<circle cx="368.60" cy="279.50" r="1.45" fill="#223259"/>
<circle cx="368.60" cy="285.70" r="1.45" fill="#223259"/>
<circle cx="364.40" cy="288.20" r="1.45" fill="#223259"/>
<circle cx="364.40" cy="295.70" r="1.45" fill="#223259"/>
<circle cx="368.60" cy="298.90" r="1.45" fill="#223259"/>
<circle cx="366.60" cy="311.30" r="1.45" fill="#223259"/>
<circle cx="359.20" cy="332.50" r="1.45" fill="#223259"/>
<circle cx="364.40" cy="329.20" r="1.45" fill="#223259"/>
<circle cx="368.60" cy="333.00" r="1.45" fill="#223259"/>
<circle cx="370.60" cy="329.70" r="1.45" fill="#223259"/>
<circle cx="373.60" cy="331.70" r="1.45" fill="#223259"/>
<circle cx="408.20" cy="222.40" r="1.45" fill="#62a049"/>
<circle cx="405.70" cy="229.20" r="1.45" fill="#62a049"/>
<circle cx="401.70" cy="246.70" r="1.45" fill="#62a049"/>
<circle cx="404.60" cy="247.70" r="1.45" fill="#62a049"/>
<circle cx="408.40" cy="246.70" r="1.45" fill="#62a049"/>
<circle cx="412.60" cy="245.50" r="1.45" fill="#62a049"/>
<circle cx="408.40" cy="252.70" r="1.45" fill="#62a049"/>
<circle cx="412.60" cy="252.20" r="1.45" fill="#62a049"/>
<circle cx="408.40" cy="258.40" r="1.45" fill="#62a049"/>
<circle cx="399.20" cy="272.60" r="1.45" fill="#62a049"/>
<circle cx="403.90" cy="274.10" r="1.45" fill="#62a049"/>
<circle cx="408.40" cy="275.30" r="1.45" fill="#62a049"/>
<circle cx="411.60" cy="274.10" r="1.45" fill="#62a049"/>
<circle cx="417.10" cy="272.60" r="1.45" fill="#62a049"/>
<circle cx="405.90" cy="280.00" r="1.45" fill="#62a049"/>
<circle cx="408.40" cy="311.30" r="1.45" fill="#62a049"/>
<circle cx="403.90" cy="333.00" r="1.45" fill="#62a049"/>
<circle cx="412.60" cy="333.00" r="1.45" fill="#62a049"/>
<circle cx="450.00" cy="242.50" r="1.45" fill="#30143d"/>
<circle cx="443.40" cy="273.30" r="1.45" fill="#30143d"/>
<circle cx="448.00" cy="275.10" r="1.45" fill="#30143d"/>
<circle cx="452.60" cy="276.70" r="1.45" fill="#30143d"/>
<circle cx="456.70" cy="274.60" r="1.45" fill="#30143d"/>
<circle cx="447.70" cy="305.50" r="1.45" fill="#30143d"/>
<circle cx="452.30" cy="304.50" r="1.45" fill="#30143d"/>
<circle cx="450.00" cy="317.80" r="1.45" fill="#30143d"/>
<circle cx="445.40" cy="324.50" r="1.45" fill="#30143d"/>
<circle cx="450.00" cy="325.50" r="1.45" fill="#30143d"/>
<circle cx="454.60" cy="325.00" r="1.45" fill="#30143d"/>
<circle cx="458.50" cy="327.30" r="1.45" fill="#30143d"/>
<circle cx="439.20" cy="330.10" r="1.45" fill="#30143d"/>
<circle cx="441.50" cy="331.60" r="1.45" fill="#30143d"/>
<circle cx="445.40" cy="331.20" r="1.45" fill="#30143d"/>
<circle cx="450.00" cy="331.20" r="1.45" fill="#30143d"/>
<circle cx="454.60" cy="331.20" r="1.45" fill="#30143d"/>
<circle cx="445.40" cy="335.30" r="1.45" fill="#30143d"/>
<circle cx="450.00" cy="335.50" r="1.45" fill="#30143d"/>
<circle cx="454.60" cy="335.30" r="1.45" fill="#30143d"/>
<circle cx="459.20" cy="334.50" r="1.45" fill="#30143d"/>
<circle cx="491.80" cy="309.60" r="1.45" fill="#cf9832"/>
<circle cx="487.20" cy="328.80" r="1.45" fill="#cf9832"/>
<circle cx="491.80" cy="330.70" r="1.45" fill="#cf9832"/>
<circle cx="496.50" cy="328.10" r="1.45" fill="#cf9832"/>
<circle cx="480.00" cy="333.00" r="1.45" fill="#cf9832"/>
<circle cx="483.00" cy="333.40" r="1.45" fill="#cf9832"/>
<circle cx="486.00" cy="333.60" r="1.45" fill="#cf9832"/>
<circle cx="489.00" cy="333.70" r="1.45" fill="#cf9832"/>
<circle cx="492.00" cy="333.70" r="1.45" fill="#cf9832"/>
<circle cx="495.00" cy="333.60" r="1.45" fill="#cf9832"/>
<circle cx="498.00" cy="333.40" r="1.45" fill="#cf9832"/>
<circle cx="501.00" cy="333.10" r="1.45" fill="#cf9832"/>
<circle cx="504.00" cy="332.70" r="1.45" fill="#cf9832"/>
<circle cx="410.50" cy="226.10" r="1.55" fill="#fffdf0" stroke="#62a049" stroke-width="0.95"/>
<line x1="310.60" y1="332.50" x2="337.50" y2="332.50" stroke="#000" stroke-width="1.4"/>
<line x1="352.50" y1="272.50" x2="380.30" y2="272.50" stroke="#000" stroke-width="1.4"/>
<line x1="394.70" y1="266.50" x2="422.00" y2="266.50" stroke="#000" stroke-width="1.4"/>
<line x1="436.20" y1="325.50" x2="463.80" y2="325.50" stroke="#000" stroke-width="1.4"/>
<line x1="478.30" y1="334.50" x2="505.50" y2="334.50" stroke="#000" stroke-width="1.4"/>
<line x1="363.90" y1="206.50" x2="491.90" y2="206.50" stroke="#111" stroke-width="1.2"/>
<circle cx="476.30" cy="204.30" r="1.1" fill="#222"/>
<circle cx="479.90" cy="204.30" r="1.1" fill="#222"/>
<circle cx="483.50" cy="204.30" r="1.1" fill="#222"/>
<circle cx="487.10" cy="204.30" r="1.1" fill="#222"/>
<line x1="408.20" y1="212.50" x2="491.90" y2="212.50" stroke="#111" stroke-width="1.2"/>
<circle cx="476.30" cy="210.40" r="1.1" fill="#222"/>
<circle cx="479.90" cy="210.40" r="1.1" fill="#222"/>
<circle cx="483.50" cy="210.40" r="1.1" fill="#222"/>
<circle cx="487.10" cy="210.40" r="1.1" fill="#222"/>
<line x1="408.20" y1="218.50" x2="450.60" y2="218.50" stroke="#111" stroke-width="1.2"/>
<circle cx="447.50" cy="215.80" r="1.1" fill="#222"/>
<rect x="0.6" y="0.6" width="518.7" height="562.6" fill="none" stroke="#000" stroke-width="1.3"/>
</svg>
</body></html>
